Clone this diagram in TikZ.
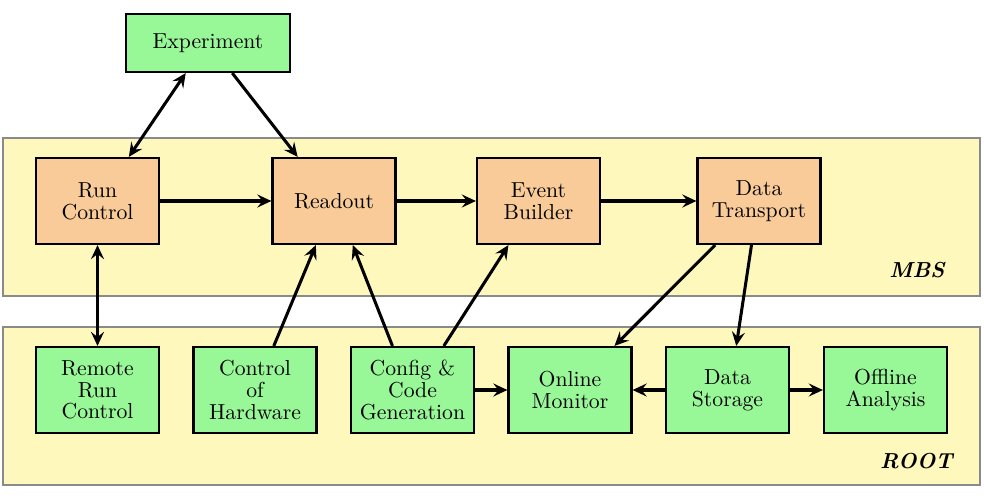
\documentclass[tikz,border=0pt]{standalone}
\usetikzlibrary{arrows.meta,calc}
\definecolor{boxgreen}{HTML}{98F898}
\definecolor{boxorange}{HTML}{F8CB98}
\definecolor{bandyellow}{HTML}{FFF8BC}
\definecolor{bandline}{HTML}{8A8A8A}
\begin{document}
\begin{tikzpicture}[x=0.4608pt,y=-0.4608pt,
  box/.style={draw=black,line width=1pt,minimum width=56.7pt,minimum height=39.6pt,inner sep=0pt,align=center,font=\fontsize{10}{10}\selectfont},
  gbox/.style={box,fill=boxgreen},
  obox/.style={box,fill=boxorange},
  band/.style={draw=bandline,line width=0.6pt,fill=bandyellow},
  arr/.style={line width=1.4pt,-{Stealth[length=6.5pt,width=6pt,inset=2.4pt]}},
  darr/.style={line width=1.4pt,{Stealth[length=6.5pt,width=6pt,inset=2.4pt]}-{Stealth[length=6.5pt,width=6pt,inset=2.4pt]}},
  tag/.style={font=\bfseries\itshape,anchor=base east,inner sep=0pt}]
\useasboundingbox (0,0) rectangle (984,500);
% bands
\draw[band] (3,138) rectangle (980,296);
\draw[band] (3,327) rectangle (980,485);
\node[tag] (mbs) at (945,277) {MBS};
\node[tag] (root) at (953,468) {ROOT};
% boxes
\node[gbox,minimum width=75.6pt,minimum height=26.7pt] (exp) at (208,43) {Experiment};
\node[obox] (rc) at (97.5,201) {Run\\Control};
\node[obox] (ro) at (334,201) {Readout};
\node[obox] (eb) at (538.5,201) {Event\\Builder};
\node[obox] (dt) at (759,201) {Data\\Transport};
\node[gbox] (rrc) at (97.5,390) {Remote\\Run\\Control};
\node[gbox] (ch) at (255,390) {Control\\of\\Hardware};
\node[gbox] (cg) at (412.5,390) {Config \&\\Code\\Generation};
\node[gbox] (om) at (570,390) {Online\\Monitor};
\node[gbox] (ds) at (727.5,390) {Data\\Storage};
\node[gbox] (oa) at (885.5,390) {Offline\\Analysis};
% connectors
\draw[darr] ($(exp.south west)!0.366!(exp.south east)$) -- ($(rc.north west)!0.75!(rc.north east)$);
\draw[arr] ($(exp.south west)!0.646!(exp.south east)$) -- ($(ro.north west)!0.21!(ro.north east)$);
\draw[arr] (rc.east) -- (ro.west);
\draw[arr] (ro.east) -- (eb.west);
\draw[arr] (eb.east) -- (dt.west);
\draw[darr] (rc.south) -- (rrc.north);
\draw[arr] ($(ch.north west)!0.65!(ch.north east)$) -- ($(ro.south west)!0.355!(ro.south east)$);
\draw[arr] ($(cg.north west)!0.34!(cg.north east)$) -- ($(ro.south west)!0.65!(ro.south east)$);
\draw[arr] ($(cg.north west)!0.75!(cg.north east)$) -- ($(eb.south west)!0.26!(eb.south east)$);
\draw[arr] (cg.east) -- (om.west);
\draw[arr] ($(dt.south west)!0.15!(dt.south east)$) -- ($(om.north west)!0.855!(om.north east)$);
\draw[arr] ($(dt.south west)!0.44!(dt.south east)$) -- ($(ds.north west)!0.57!(ds.north east)$);
\draw[arr] (ds.west) -- (om.east);
\draw[arr] (ds.east) -- (oa.west);
\end{tikzpicture}
\end{document}
